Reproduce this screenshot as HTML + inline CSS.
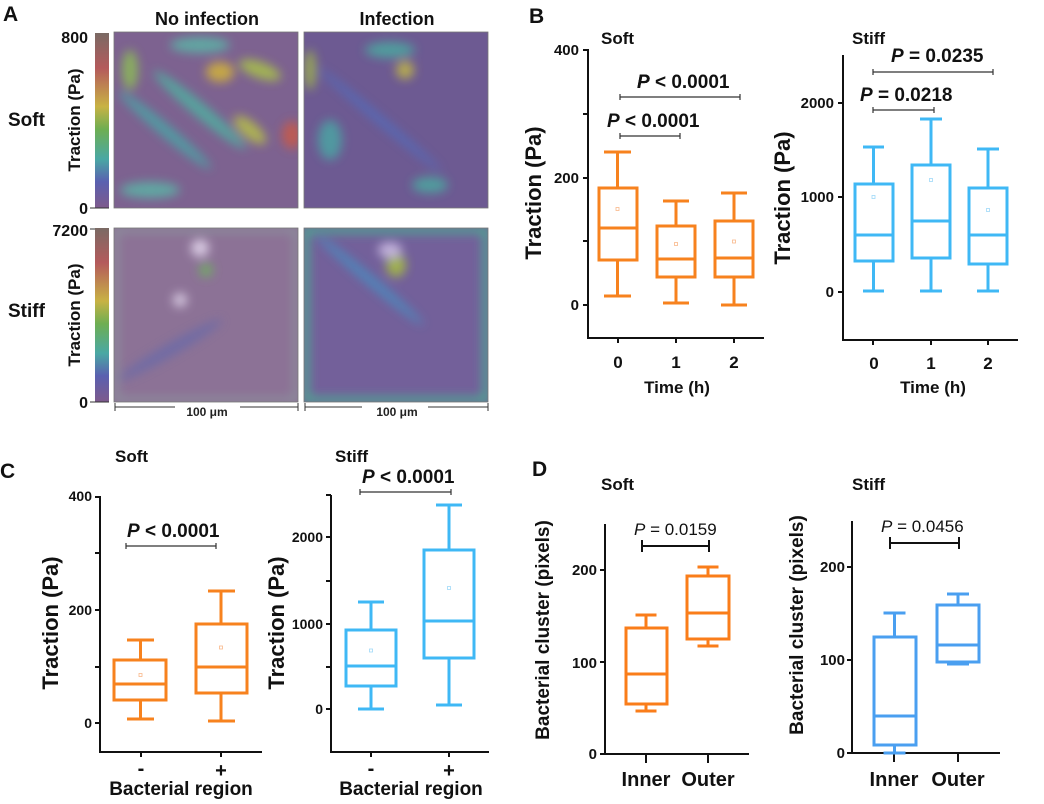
<!DOCTYPE html>
<html><head><meta charset="utf-8"><style>html,body{margin:0;padding:0;background:#fff}svg{display:block}text{font-family:"Liberation Sans",Arial,sans-serif}</style></head><body>
<svg width="1044" height="804" viewBox="0 0 1044 804" xmlns="http://www.w3.org/2000/svg">
<defs>
<linearGradient id="cb" x1="0" y1="0" x2="0" y2="1">
<stop offset="0" stop-color="#7a6a64"/><stop offset="0.2" stop-color="#b45a5c"/><stop offset="0.42" stop-color="#c8b244"/><stop offset="0.55" stop-color="#6eae52"/><stop offset="0.72" stop-color="#4aa8a4"/><stop offset="0.85" stop-color="#5a60b0"/><stop offset="1" stop-color="#7e5a8c"/>
</linearGradient>
<filter id="bl" x="-20%" y="-20%" width="140%" height="140%"><feGaussianBlur stdDeviation="5"/></filter>
<clipPath id="c1"><rect x="114" y="32" width="184" height="176"/></clipPath>
<clipPath id="c2"><rect x="304" y="32" width="184" height="176"/></clipPath>
<clipPath id="c3"><rect x="114" y="228" width="184" height="174"/></clipPath>
<clipPath id="c4"><rect x="304" y="228" width="184" height="174"/></clipPath>
</defs>
<g font-weight="bold" fill="#111">
<text x="3" y="21" font-size="21">A</text>
<text x="207" y="25" font-size="18" text-anchor="middle">No infection</text>
<text x="397" y="25" font-size="18" text-anchor="middle">Infection</text>
<text x="8" y="126" font-size="19">Soft</text>
<text x="8" y="317" font-size="19">Stiff</text>
<text x="88" y="43" font-size="16" text-anchor="end">800</text>
<text x="88" y="214" font-size="16" text-anchor="end">0</text>
<text x="88" y="236" font-size="16" text-anchor="end">7200</text>
<text x="88" y="408" font-size="16" text-anchor="end">0</text>
<text transform="translate(80,120) rotate(-90)" font-size="17" text-anchor="middle">Traction (Pa)</text>
<text transform="translate(80,315) rotate(-90)" font-size="17" text-anchor="middle">Traction (Pa)</text>
</g>
<rect x="95" y="33" width="14" height="175" fill="url(#cb)"/>
<rect x="95" y="228" width="14" height="174" fill="url(#cb)"/>
<line x1="90" y1="208" x2="109" y2="208" stroke="#333"/><line x1="90" y1="229" x2="95" y2="229" stroke="#333"/><line x1="90" y1="402" x2="109" y2="402" stroke="#333"/>
<!-- images -->
<g clip-path="url(#c1)"><rect x="114" y="32" width="184" height="176" fill="#7d6290"/>
<g filter="url(#bl)" opacity="0.85">
<ellipse cx="220" cy="72" rx="14" ry="10" fill="#d2b33a"/><ellipse cx="260" cy="70" rx="22" ry="8" fill="#a9c24a" transform="rotate(20 260 70)"/>
<ellipse cx="200" cy="110" rx="60" ry="7" fill="#4fb0a0" transform="rotate(40 200 110)"/>
<ellipse cx="165" cy="130" rx="60" ry="6" fill="#48a6a6" transform="rotate(40 165 130)"/>
<ellipse cx="250" cy="130" rx="20" ry="8" fill="#b6c04a" transform="rotate(40 250 130)"/>
<ellipse cx="292" cy="135" rx="10" ry="14" fill="#c85a4a"/>
<ellipse cx="200" cy="45" rx="30" ry="8" fill="#5bb4a6"/>
<ellipse cx="130" cy="70" rx="8" ry="20" fill="#8cbc56"/><ellipse cx="150" cy="190" rx="30" ry="8" fill="#5bb4a6"/></g></g>
<g clip-path="url(#c2)"><rect x="304" y="32" width="184" height="176" fill="#6d5a92"/>
<g filter="url(#bl)" opacity="0.8">
<ellipse cx="405" cy="70" rx="9" ry="9" fill="#c8c040"/><ellipse cx="390" cy="50" rx="25" ry="8" fill="#4aaea0"/>
<ellipse cx="380" cy="120" rx="80" ry="4" fill="#4f6ec0" transform="rotate(40 380 120)"/>
<ellipse cx="330" cy="140" rx="12" ry="20" fill="#4aa8a4"/><ellipse cx="430" cy="185" rx="18" ry="8" fill="#4aaea0"/>
<ellipse cx="310" cy="70" rx="6" ry="20" fill="#a0b848"/></g></g>
<g clip-path="url(#c3)"><rect x="114" y="228" width="184" height="174" fill="#8c7296"/>
<g filter="url(#bl)" opacity="0.85">
<ellipse cx="200" cy="248" rx="9" ry="9" fill="#e4d8ee"/><ellipse cx="206" cy="270" rx="7" ry="7" fill="#70b060"/>
<ellipse cx="180" cy="300" rx="7" ry="7" fill="#e0d4ea"/><ellipse cx="170" cy="350" rx="60" ry="6" fill="#6a6aa8" transform="rotate(-30 170 350)"/></g>
<rect x="116" y="230" width="180" height="170" fill="none" stroke="#8cb8a4" stroke-width="4" opacity="0.6" filter="url(#bl)"/></g>
<g clip-path="url(#c4)"><rect x="304" y="228" width="184" height="174" fill="#73609a"/>
<g filter="url(#bl)" opacity="0.85">
<ellipse cx="396" cy="265" rx="10" ry="12" fill="#a8c040"/><ellipse cx="390" cy="250" rx="12" ry="8" fill="#cfc0e6"/>
<ellipse cx="370" cy="280" rx="70" ry="5" fill="#4a8cc0" transform="rotate(40 370 280)"/></g>
<rect x="306" y="230" width="180" height="170" fill="none" stroke="#48b090" stroke-width="6" filter="url(#bl)"/></g>
<rect x="114" y="32" width="184" height="176" fill="none" stroke="#777" stroke-width="0.8"/>
<rect x="304" y="32" width="184" height="176" fill="none" stroke="#777" stroke-width="0.8"/>
<rect x="114" y="228" width="184" height="174" fill="none" stroke="#777" stroke-width="0.8"/>
<rect x="304" y="228" width="184" height="174" fill="none" stroke="#777" stroke-width="0.8"/>
<g stroke="#333" stroke-width="1">
<line x1="115" y1="407" x2="175" y2="407"/><line x1="240" y1="407" x2="298" y2="407"/><line x1="115" y1="403" x2="115" y2="411"/><line x1="298" y1="403" x2="298" y2="411"/>
<line x1="305" y1="407" x2="362" y2="407"/><line x1="428" y1="407" x2="488" y2="407"/><line x1="305" y1="403" x2="305" y2="411"/><line x1="488" y1="403" x2="488" y2="411"/>
</g>
<text x="207" y="416" font-size="12" text-anchor="middle" font-weight="bold" fill="#222">100 μm</text>
<text x="397" y="416" font-size="12" text-anchor="middle" font-weight="bold" fill="#222">100 μm</text>

<!-- Panel B -->
<g font-weight="bold" fill="#111">
<text x="529" y="23" font-size="21">B</text>
<text x="601" y="44" font-size="17">Soft</text>
<text x="852" y="44" font-size="17">Stiff</text>
<g font-size="15" text-anchor="end"><text x="579" y="55">400</text><text x="579" y="183">200</text><text x="579" y="310">0</text>
<text x="834" y="108">2000</text><text x="834" y="202">1000</text><text x="834" y="297">0</text></g>
<g font-size="17" text-anchor="middle"><text x="618" y="368">0</text><text x="676" y="368">1</text><text x="734" y="368">2</text>
<text x="874" y="369">0</text><text x="931" y="369">1</text><text x="988" y="369">2</text>
<text x="677" y="393">Time (h)</text><text x="933" y="393">Time (h)</text></g>
<text transform="translate(541,193) rotate(-90)" font-size="22" text-anchor="middle">Traction (Pa)</text>
<text transform="translate(790,198) rotate(-90)" font-size="22" text-anchor="middle">Traction (Pa)</text>
<g font-size="19"><text x="607" y="127"><tspan font-style="italic">P</tspan> &lt; 0.0001</text>
<text x="637" y="88"><tspan font-style="italic">P</tspan> = </text>
<text x="860" y="101"><tspan font-style="italic">P</tspan> = 0.0218</text>
<text x="891" y="62"><tspan font-style="italic">P</tspan> = 0.0235</text></g>
</g>
<rect x="655" y="72" width="70" height="20" fill="#fff"/>
<text x="637" y="88" font-size="19" font-weight="bold" fill="#111"><tspan font-style="italic">P</tspan> &lt; 0.0001</text>
<g stroke="#111" stroke-width="2" fill="none">
<polyline points="588,49 588,338 764,338"/>
<line x1="583" y1="50" x2="588" y2="50"/><line x1="583" y1="114" x2="588" y2="114"/><line x1="583" y1="178" x2="588" y2="178"/><line x1="583" y1="241" x2="588" y2="241"/><line x1="583" y1="305" x2="588" y2="305"/>
<line x1="618" y1="338" x2="618" y2="343"/><line x1="676" y1="338" x2="676" y2="343"/><line x1="734" y1="338" x2="734" y2="343"/>
<polyline points="843,55 843,340 1018,340"/>
<line x1="838" y1="103" x2="843" y2="103"/><line x1="838" y1="197" x2="843" y2="197"/><line x1="838" y1="292" x2="843" y2="292"/>
<line x1="873" y1="340" x2="873" y2="345"/><line x1="931" y1="340" x2="931" y2="345"/><line x1="988" y1="340" x2="988" y2="345"/>
</g>
<g stroke="#333" stroke-width="1.2">
<line x1="620" y1="97" x2="740" y2="97"/><line x1="620" y1="94" x2="620" y2="100"/><line x1="740" y1="94" x2="740" y2="100"/>
<line x1="620" y1="136" x2="680" y2="136"/><line x1="620" y1="133" x2="620" y2="139"/><line x1="680" y1="133" x2="680" y2="139"/>
<line x1="873" y1="72" x2="993" y2="72"/><line x1="873" y1="69" x2="873" y2="75"/><line x1="993" y1="69" x2="993" y2="75"/>
<line x1="873" y1="110" x2="934" y2="110"/><line x1="873" y1="107" x2="873" y2="113"/><line x1="934" y1="107" x2="934" y2="113"/>
</g>
<g stroke="#f7821e" stroke-width="3" fill="none">
<path d="M617.5 152V188M617.5 260V296M604 152H631M604 296H631M599 228H637"/><rect x="599" y="188" width="38" height="72"/>
<path d="M676 201V226M676 277V303M663 201H689M663 303H689M657 259H695"/><rect x="657" y="226" width="38" height="51"/>
<path d="M734 193V221M734 277V305M721 193H747M721 305H747M715 258H753"/><rect x="715" y="221" width="38" height="56"/>
</g>
<g stroke="#f9b88a" stroke-width="0.8" fill="none"><rect x="616" y="207.5" width="3" height="3"/><rect x="674.5" y="242.5" width="3" height="3"/><rect x="732.5" y="240" width="3" height="3"/></g>
<g stroke="#3fb8f5" stroke-width="3" fill="none">
<path d="M873.5 147V184M873.5 261V291M863 147H884M863 291H884M855 235H893"/><rect x="855" y="184" width="38" height="77"/>
<path d="M931 119V165M931 258V291M920 119H942M920 291H942M912 221H950"/><rect x="912" y="165" width="38" height="93"/>
<path d="M988 149V188M988 264V291M977 149H999M977 291H999M969 235H1007"/><rect x="969" y="188" width="38" height="76"/>
</g>
<g stroke="#9fd9f8" stroke-width="0.8" fill="none"><rect x="872" y="195.5" width="3" height="3"/><rect x="929.5" y="178.5" width="3" height="3"/><rect x="986.5" y="208.5" width="3" height="3"/></g>

<!-- Panel C -->
<g font-weight="bold" fill="#111">
<text x="0" y="478" font-size="21">C</text>
<text x="115" y="462" font-size="17">Soft</text>
<text x="335" y="462" font-size="17">Stiff</text>
<g font-size="14" text-anchor="end"><text x="92" y="501">400</text><text x="92" y="615">200</text><text x="92" y="728">0</text>
<text x="323" y="542">2000</text><text x="323" y="629">1000</text><text x="323" y="714">0</text></g>
<g font-size="20" text-anchor="middle"><text x="141" y="775">-</text><text x="221" y="777">+</text><text x="371" y="775">-</text><text x="449" y="777">+</text></g>
<g font-size="19" text-anchor="middle"><text x="181" y="795">Bacterial region</text><text x="411" y="795">Bacterial region</text></g>
<text transform="translate(58,623) rotate(-90)" font-size="22" text-anchor="middle">Traction (Pa)</text>
<text transform="translate(284,623) rotate(-90)" font-size="22" text-anchor="middle">Traction (Pa)</text>
<g font-size="19"><text x="127" y="537"><tspan font-style="italic">P</tspan> &lt; 0.0001</text><text x="362" y="483"><tspan font-style="italic">P</tspan> &lt; 0.0001</text></g>
</g>
<g stroke="#111" stroke-width="2" fill="none">
<polyline points="100,496 100,752 262,752"/>
<line x1="95" y1="497" x2="100" y2="497"/><line x1="95" y1="553" x2="100" y2="553"/><line x1="95" y1="610" x2="100" y2="610"/><line x1="95" y1="667" x2="100" y2="667"/><line x1="95" y1="723" x2="100" y2="723"/>
<line x1="141" y1="752" x2="141" y2="757"/><line x1="221" y1="752" x2="221" y2="757"/>
<polyline points="331,495 331,752 489,752"/>
<line x1="326" y1="495" x2="331" y2="495"/><line x1="326" y1="537" x2="331" y2="537"/><line x1="326" y1="581" x2="331" y2="581"/><line x1="326" y1="624" x2="331" y2="624"/><line x1="326" y1="667" x2="331" y2="667"/><line x1="326" y1="709" x2="331" y2="709"/>
<line x1="371" y1="752" x2="371" y2="757"/><line x1="449" y1="752" x2="449" y2="757"/>
</g>
<g stroke="#333" stroke-width="1.2">
<line x1="126" y1="546" x2="216" y2="546"/><line x1="126" y1="543" x2="126" y2="549"/><line x1="216" y1="543" x2="216" y2="549"/>
<line x1="360" y1="492" x2="451" y2="492"/><line x1="360" y1="489" x2="360" y2="495"/><line x1="451" y1="489" x2="451" y2="495"/>
</g>
<g stroke="#f7821e" stroke-width="3" fill="none">
<path d="M140.5 640V660M140.5 700V719M127 640H154M127 719H154M114 684H166"/><rect x="114" y="660" width="52" height="40"/>
<path d="M221 591V624M221 693V721M208 591H235M208 721H235M196 667H247"/><rect x="196" y="624" width="51" height="69"/>
</g>
<g stroke="#f9b88a" stroke-width="0.8" fill="none"><rect x="139" y="673.5" width="3" height="3"/><rect x="219.5" y="646" width="3" height="3"/></g>
<g stroke="#3fb8f5" stroke-width="3" fill="none">
<path d="M371 602V630M371 686V709M358 602H384M358 709H384M346 666H396"/><rect x="346" y="630" width="50" height="56"/>
<path d="M449 505V550M449 658V705M436 505H462M436 705H462M424 621H474"/><rect x="424" y="550" width="50" height="108"/>
</g>
<g stroke="#9fd9f8" stroke-width="0.8" fill="none"><rect x="369.5" y="649" width="3" height="3"/><rect x="447.5" y="586.5" width="3" height="3"/></g>

<!-- Panel D -->
<g font-weight="bold" fill="#111">
<text x="532" y="476" font-size="21">D</text>
<text x="601" y="490" font-size="17">Soft</text>
<text x="852" y="490" font-size="17">Stiff</text>
<g font-size="15" text-anchor="end"><text x="597" y="575">200</text><text x="597" y="668">100</text><text x="597" y="759">0</text>
<text x="845" y="572">200</text><text x="845" y="665">100</text><text x="845" y="758">0</text></g>
<g font-size="20" text-anchor="middle"><text x="646" y="786">Inner</text><text x="708" y="786">Outer</text><text x="894" y="786">Inner</text><text x="958" y="786">Outer</text></g>
<text transform="translate(549,630) rotate(-90)" font-size="19" text-anchor="middle">Bacterial cluster (pixels)</text>
<text transform="translate(803,625) rotate(-90)" font-size="19" text-anchor="middle">Bacterial cluster (pixels)</text>
</g>
<g font-size="17" fill="#111"><text x="634" y="535"><tspan font-style="italic">P</tspan> = 0.0159</text><text x="881" y="532"><tspan font-style="italic">P</tspan> = 0.0456</text></g>
<g stroke="#111" stroke-width="2" fill="none">
<polyline points="605,524 605,754 749,754"/>
<line x1="600" y1="570" x2="605" y2="570"/><line x1="600" y1="662" x2="605" y2="662"/><line x1="600" y1="754" x2="605" y2="754"/>
<line x1="646" y1="754" x2="646" y2="763"/><line x1="708" y1="754" x2="708" y2="763"/>
<polyline points="852,521 852,753 1000,753"/>
<line x1="847" y1="567" x2="852" y2="567"/><line x1="847" y1="660" x2="852" y2="660"/><line x1="847" y1="753" x2="852" y2="753"/>
<line x1="894" y1="753" x2="894" y2="762"/><line x1="958" y1="753" x2="958" y2="762"/>
<path d="M642 546H709M642 540V552M709 540V552"/>
<path d="M890 543H959M890 537V549M959 537V549"/>
</g>
<g stroke="#fa7d1a" stroke-width="3" fill="none">
<path d="M646 615V628M646 704V711M635.5 615H656.5M635.5 711H656.5M626 674H667"/><rect x="626" y="628" width="41" height="76"/>
<path d="M708 567V576M708 639V646M697.5 567H718.5M697.5 646H718.5M687 613H729"/><rect x="687" y="576" width="42" height="63"/>
</g>
<g stroke="#4a9ff0" stroke-width="3" fill="none">
<path d="M894.5 613V637M894.5 745V753M883.5 613H905.5M883.5 753H905.5M874 716H916"/><rect x="874" y="637" width="42" height="108"/>
<path d="M958 594V605M958 662V664M947 594H969M947 664H969M937 645H979"/><rect x="937" y="605" width="42" height="57"/>
</g>
</svg>
</body></html>
